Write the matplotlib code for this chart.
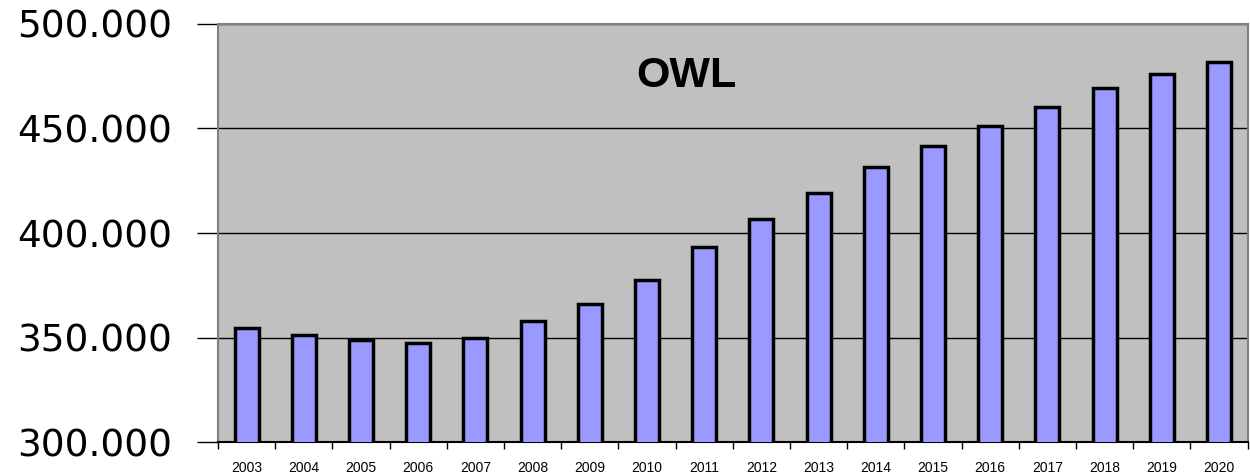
import matplotlib.pyplot as plt
import numpy as np

years = ['2003', '2004', '2005', '2006', '2007', '2008', '2009', '2010', '2011',
         '2012', '2013', '2014', '2015', '2016', '2017', '2018', '2019', '2020']
values = [354.5, 351.2, 348.8, 347.5, 349.9, 357.9, 365.9, 377.4, 393.2,
          406.7, 419.3, 431.7, 441.6, 451.2, 460.3, 469.4, 476.2, 481.7]
yticks = [300, 350, 400, 450, 500]
ytick_labels = ['300.000', '350.000', '400.000', '450.000', '500.000']

plt.rcParams['font.family'] = ['Liberation Sans', 'DejaVu Sans']

fig = plt.figure(figsize=(12.5, 4.76), dpi=100)
ax = fig.add_axes([0.1744, 0.0714, 0.8236, 0.8782])
ax.set_facecolor('#C0C0C0')

x = np.arange(len(years))
ax.bar(x, values, width=0.42, color='#9999FF', edgecolor='black', linewidth=2.5, zorder=3)

ax.set_ylim(300, 500)
ax.set_xlim(-0.5, len(years) - 0.5)
ax.set_yticks(yticks)
ax.set_yticklabels(ytick_labels, fontsize=27, family='DejaVu Sans')
ax.yaxis.grid(True, color='black', linewidth=1, zorder=1)

ax.set_xticks(x)
ax.set_xticklabels(years, fontsize=10)
ax.tick_params(axis='x', which='major', length=0, pad=14)
ax.set_xticks(np.arange(len(years) + 1) - 0.5, minor=True)
ax.tick_params(axis='x', which='minor', length=5, width=1, color='black', direction='out')
ax.tick_params(axis='y', length=15, width=1, color='black', pad=18)

for side in ['left', 'top', 'right']:
    ax.spines[side].set_color('#808080')
    ax.spines[side].set_linewidth(1.5)
ax.spines['bottom'].set_color('black')
ax.spines['bottom'].set_linewidth(1.5)

ax.text(0.455, 0.876, 'OWL', transform=ax.transAxes, ha='center', va='center',
        fontsize=31, fontweight='bold')

plt.savefig('out.png', dpi=100)
